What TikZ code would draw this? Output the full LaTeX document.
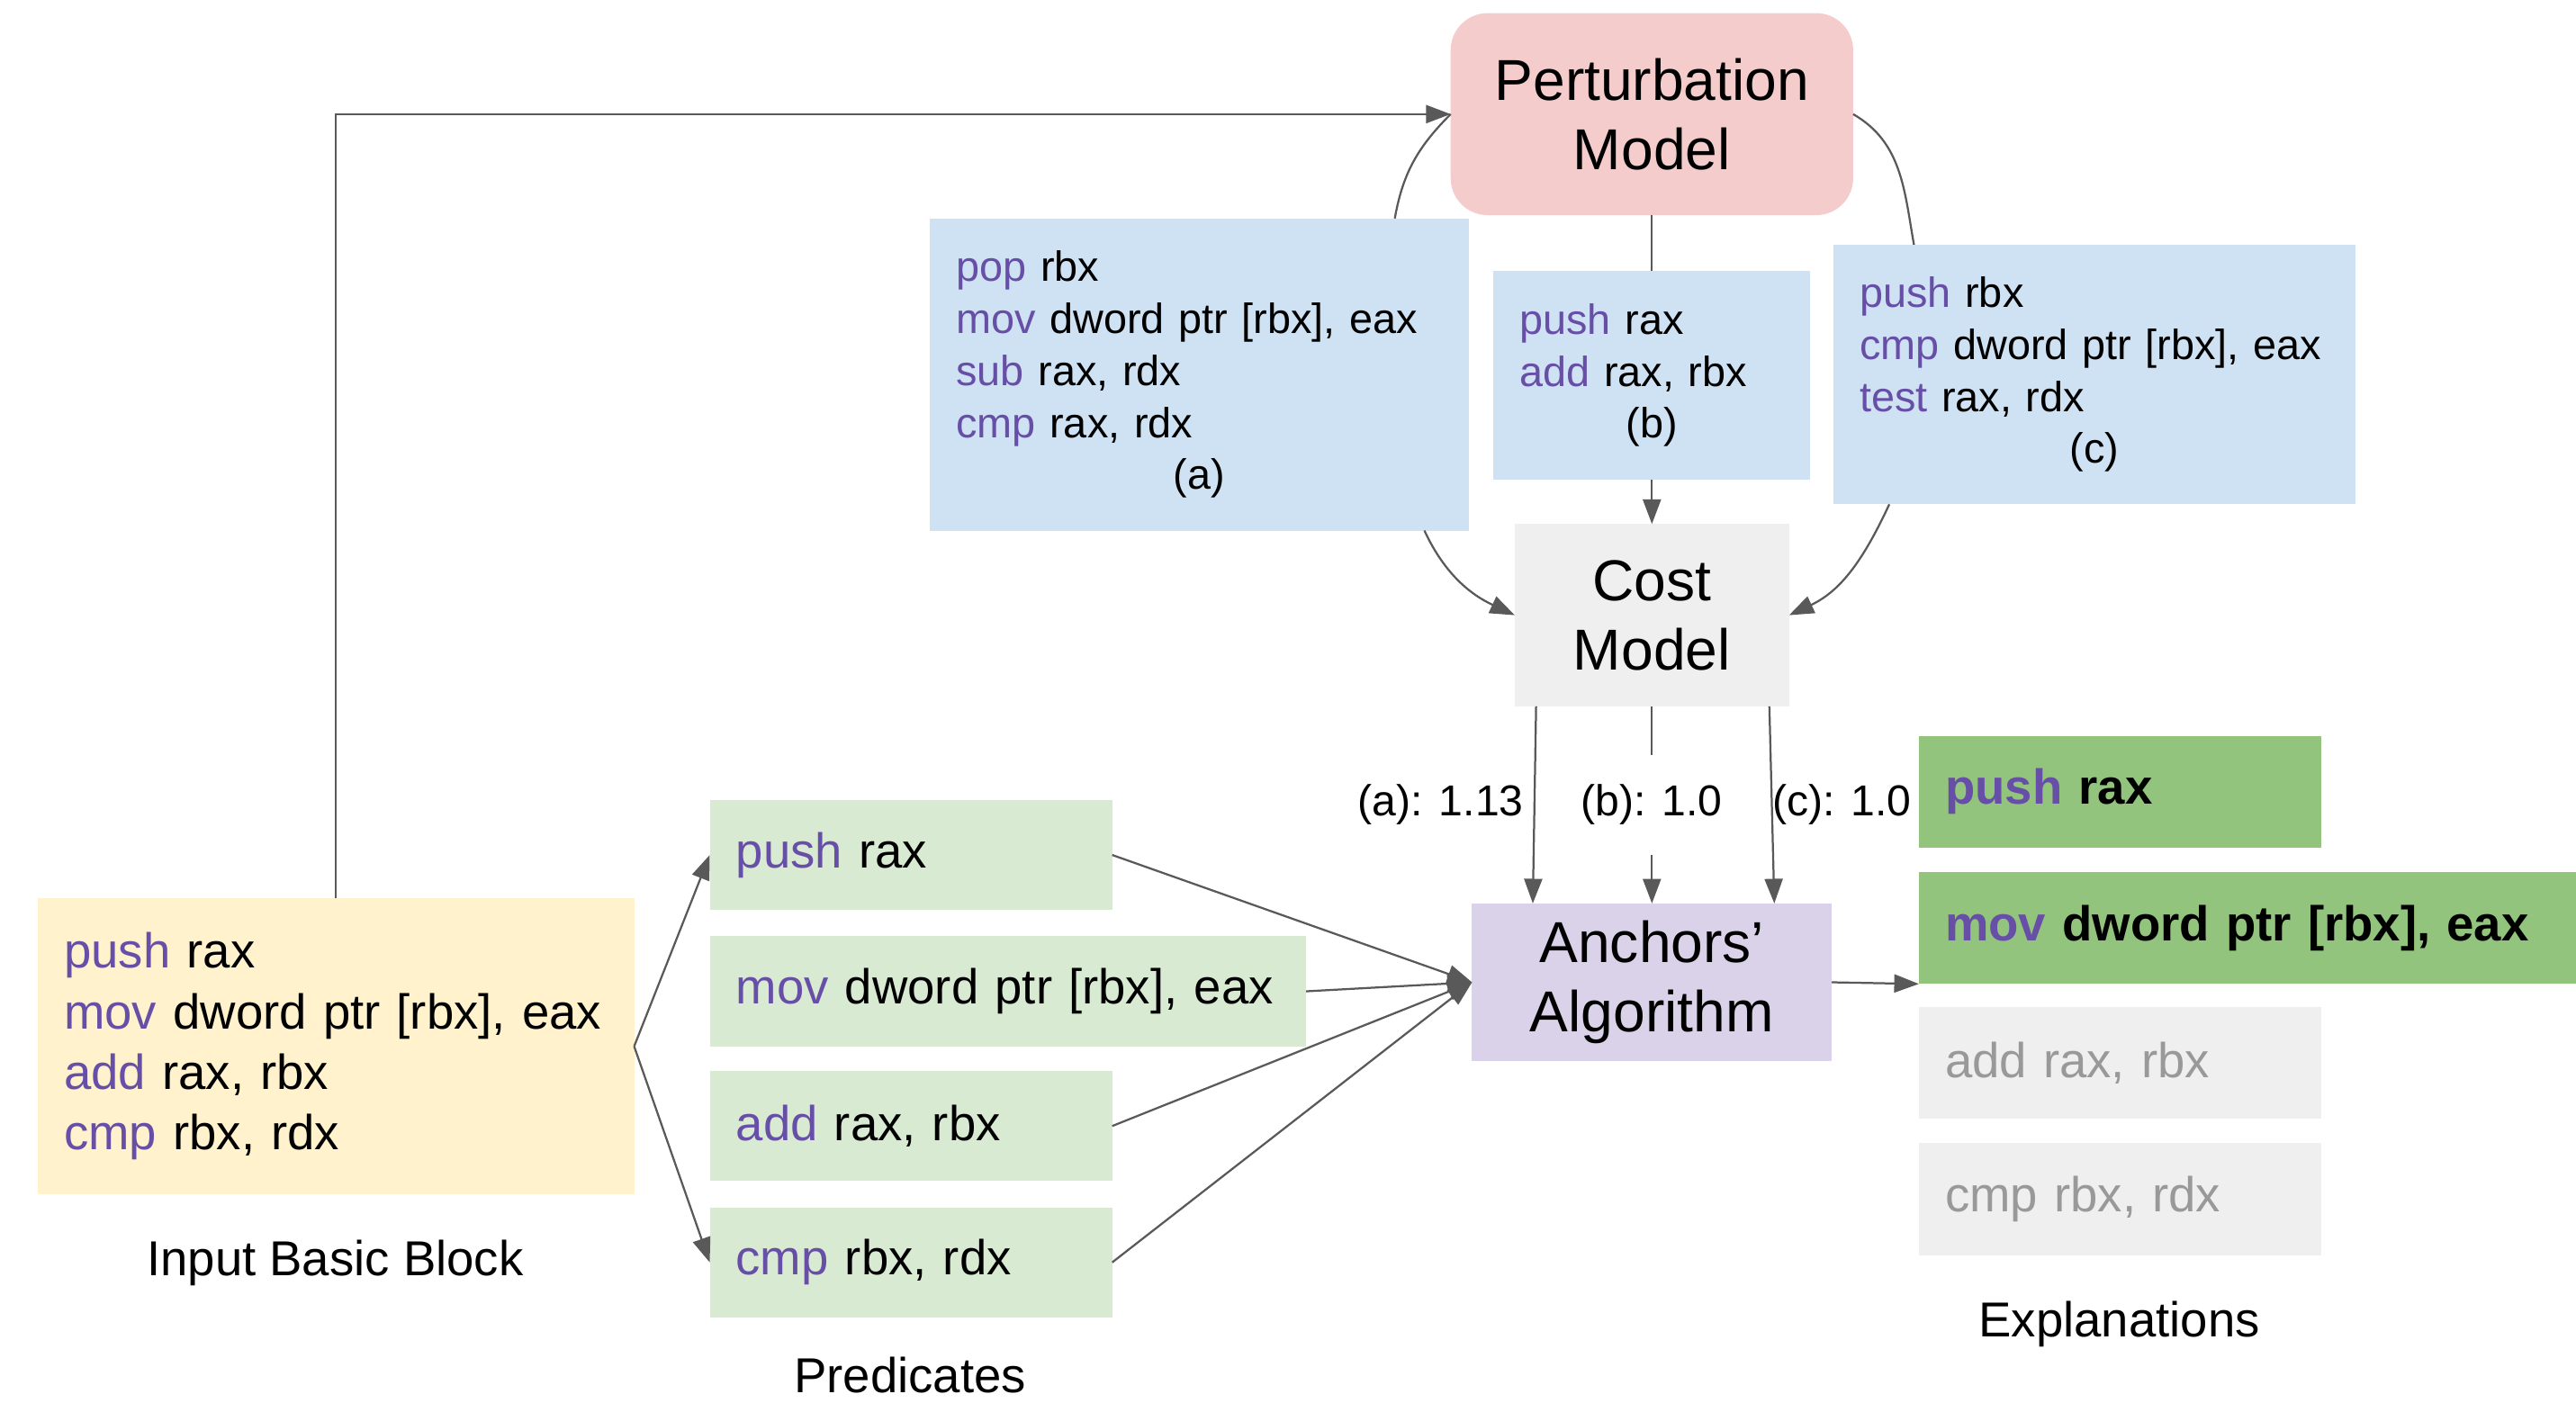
\documentclass[tikz,border=0pt]{standalone}
\usepackage{fontspec}
\setmainfont{Liberation Sans}
\usetikzlibrary{arrows.meta}

\definecolor{opcol}{HTML}{674EA7}
\definecolor{linegray}{HTML}{595959}
\definecolor{bluebox}{HTML}{CFE2F3}
\definecolor{greenbox}{HTML}{D9EAD3}
\definecolor{yellowbox}{HTML}{FFF2CC}
\definecolor{pinkbox}{HTML}{F4CCCC}
\definecolor{graybox}{HTML}{EFEFEF}
\definecolor{purplebox}{HTML}{D9D2E9}
\definecolor{keepbox}{HTML}{93C47D}
\definecolor{fadetext}{HTML}{999999}

\newcommand{\mnem}[1]{\textcolor{opcol}{#1}}
\newcommand{\tag}[1]{\makebox[\linewidth]{#1}}

\tikzset{
  title/.style={inner sep=0pt, outer sep=0pt, align=center, font=\fontsize{20}{24}\selectfont},
  code/.style={fill=#1, inner xsep=0.32cm, inner ysep=0pt, outer sep=0pt, align=left,
    font=\fontsize{17}{21}\selectfont},
  smallcode/.style={code=#1, font=\fontsize{14.6}{18}\selectfont},
  conn/.style={draw=linegray, line width=0.7pt},
  arr/.style={conn, -{Triangle[length=0.3cm,width=0.22cm]}},
  caption/.style={font=\fontsize{17}{21}\selectfont},
  score/.style={font=\fontsize{15}{18}\selectfont, inner sep=1pt}
}

\begin{document}
\begin{tikzpicture}
  \useasboundingbox (0,0) rectangle (31.36,17.08);

  % models
  \node[title, fill=pinkbox, rounded corners=0.45cm, minimum width=4.9cm, minimum height=2.46cm] (pert) at (20.11,15.69) {Perturbation\\Model};
  \node[title, fill=graybox, minimum width=3.34cm, minimum height=2.22cm] (cost) at (20.11,9.59) {Cost\\Model};
  \node[title, fill=purplebox, minimum width=4.38cm, minimum height=1.92cm] (anchors) at (20.11,5.12) {Anchors’\\Algorithm};

  % perturbed blocks
  \node[smallcode=bluebox, text width=5.92cm, minimum height=3.8cm] (blueA) at (14.6,12.52)
    {\mnem{pop} rbx\\\mnem{mov} dword ptr [rbx], eax\\\mnem{sub} rax, rdx\\\mnem{cmp} rax, rdx\\\tag{(a)}};
  \node[smallcode=bluebox, text width=3.22cm, minimum height=2.54cm] (blueB) at (20.11,12.51)
    {\mnem{push} rax\\\mnem{add} rax, rbx\\\tag{(b)}};
  \node[smallcode=bluebox, text width=5.72cm, minimum height=3.16cm] (blueC) at (25.5,12.52)
    {\mnem{push} rbx\\\mnem{cmp} dword ptr [rbx], eax\\\mnem{test} rax, rdx\\\tag{(c)}};

  % input block
  \node[code=yellowbox, text width=6.62cm, minimum height=3.6cm] (input) at (4.09,4.34)
    {\mnem{push} rax\\\mnem{mov} dword ptr [rbx], eax\\\mnem{add} rax, rbx\\\mnem{cmp} rbx, rdx};
  \node[caption] (inLabel) at (4.08,1.7) {Input Basic Block};

  % predicates
  \node[code=greenbox, text width=4.26cm, minimum height=1.34cm] (p1) at (11.09,6.67) {\mnem{push} rax};
  \node[code=greenbox, text width=6.62cm, minimum height=1.34cm] (p2) at (12.27,5.01) {\mnem{mov} dword ptr [rbx], eax};
  \node[code=greenbox, text width=4.26cm, minimum height=1.34cm] (p3) at (11.09,3.37) {\mnem{add} rax, rbx};
  \node[code=greenbox, text width=4.26cm, minimum height=1.34cm] (p4) at (11.09,1.71) {\mnem{cmp} rbx, rdx};
  \node[caption] (predLabel) at (11.08,0.34) {Predicates};

  % explanations
  \node[code=keepbox, text width=4.26cm, minimum height=1.36cm, font=\fontsize{17}{21}\selectfont\bfseries] (e1) at (25.81,7.44) {\mnem{push} rax};
  \node[code=keepbox, text width=7.36cm, minimum height=1.36cm, font=\fontsize{17}{21}\selectfont\bfseries] (e2) at (27.36,5.78) {\mnem{mov} dword ptr [rbx], eax};
  \node[code=graybox, text width=4.26cm, minimum height=1.36cm, text=fadetext] (e3) at (25.81,4.14) {add rax, rbx};
  \node[code=graybox, text width=4.26cm, minimum height=1.36cm, text=fadetext] (e4) at (25.81,2.48) {cmp rbx, rdx};
  \node[caption] (explLabel) at (25.8,0.96) {Explanations};

  % scores
  \node[score] (lblA) at (17.54,7.28) {(a): 1.13};
  \node[score] (lblC) at (22.42,7.28) {(c): 1.0};

  % connectors
  \draw[arr] (input.north) |- (pert.west);
  \draw[conn] (pert.west) to[out=225,in=80] ([xshift=-0.9cm]blueA.north east);
  \draw[conn] (pert.east) to[out=-30,in=100] ([xshift=0.98cm]blueC.north west);
  \draw[conn] (pert.south) -- (blueB.north);
  \draw[arr] (blueB.south) -- (cost.north);
  \draw[arr] ([xshift=-0.54cm]blueA.south east) to[out=-65,in=155] (cost.west);
  \draw[arr] ([xshift=0.68cm]blueC.south west) to[out=-115,in=25] (cost.east);
  \draw[arr] ([xshift=0.26cm]cost.south west) -- ([xshift=0.74cm]anchors.north west);
  \draw[arr] (cost.south) -- node[score, fill=white, inner ysep=0.36cm] (lblB) {(b): 1.0} (anchors.north);
  \draw[arr] ([xshift=-0.24cm]cost.south east) -- ([xshift=-0.7cm]anchors.north east);
  \draw[arr] (input.east) -- (p1.west);
  \draw[arr] (input.east) -- (p4.west);
  \draw[arr] (p1.east) -- (anchors.west);
  \draw[arr] (p2.east) -- (anchors.west);
  \draw[arr] (p3.east) -- (anchors.west);
  \draw[arr] (p4.east) -- (anchors.west);
  \draw[arr] (anchors.east) -- (e2.south west);
\end{tikzpicture}
\end{document}
